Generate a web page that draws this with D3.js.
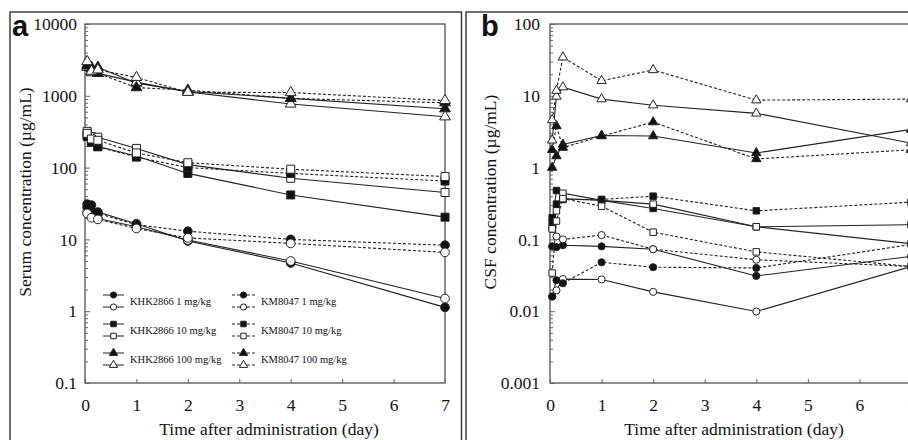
<!DOCTYPE html>
<html>
<head>
<meta charset="utf-8">
<script src="https://cdn.jsdelivr.net/npm/d3@7"></script>
<style>
  body { margin: 0; background: #fff; }
  svg text { font-family: "Liberation Serif", "Times New Roman", serif; fill: #111; }
</style>
</head>
<body>
<script>
// sampling times (day)
const days = [0.042, 0.125, 0.25, 1, 2, 4, 7];

// serum (ug/mL), panel a
const serumKHK1   = [31, 30, 24, 16.5, 9.5, 4.7, 1.13];
const serumKHK1o  = [24, 22, 19.5, 15, 9.8, 5.0, 1.5];
const serumKM1    = [28, 25, 23, 16, 13, 10, 8.3];
const serumKM1o   = [23, 20, 19, 14.2, 10.5, 8.8, 6.6];
const serumKHK10  = [285, 230, 196, 145, 83, 41.6, 20.4];
const serumKHK10o = [320, 270, 265, 185, 110, 71, 45];
const serumKM10   = [270, 225, 195, 140, 100, 83, 65];
const serumKM10o  = [300, 250, 240, 160, 117, 95, 75];
const serumKHK100  = [2700, 2500, 2500, 1500, 1150, 920, 660];
const serumKHK100o = [2500, 2100, 2050, 1550, 1130, 770, 510];
const serumKM100   = [2600, 2400, 2050, 1300, 1200, 920, 800];
const serumKM100o  = [3000, 2200, 2300, 1800, 1120, 1110, 860];

// CSF (ug/mL), panel b
const csfKHK1   = [0.08, 0.078, 0.083, 0.08, 0.073, 0.031, 0.058];
const csfKHK1o  = [0.016, 0.0195, 0.028, 0.0277, 0.0186, 0.0099, 0.042];
const csfKM1    = [0.016, 0.027, 0.0245, 0.048, 0.041, 0.04, 0.085];
const csfKM1o   = [0.14, 0.11, 0.1, 0.115, 0.073, 0.052, 0.042];
const csfKHK10  = [0.17, 0.48, 0.37, 0.35, 0.27, 0.15, 0.16];
const csfKHK10o = [0.14, 0.25, 0.44, 0.35, 0.31, 0.15, 0.087];
const csfKM10   = [0.2, 0.31, 0.36, 0.36, 0.40, 0.25, 0.33];
const csfKM10o  = [0.034, 0.18, 0.37, 0.29, 0.126, 0.067, 0.042];
const csfKHK100  = [1.0, 1.45, 2.1, 2.8, 2.75, 1.6, 3.4];
const csfKHK100o = [2.4, 9.8, 13.2, 9.0, 7.4, 5.7, 2.2];
const csfKM100   = [1.77, 3.8, 1.9, 2.75, 4.3, 1.32, 1.77];
const csfKM100o  = [4.6, 11.8, 34.4, 16.2, 22.9, 8.7, 9.0];

const legendNames = ["KHK2866 1 mg/kg", "KHK2866 10 mg/kg", "KHK2866 100 mg/kg",
                     "KM8047 1 mg/kg", "KM8047 10 mg/kg", "KM8047 100 mg/kg"];
const xTicks = [0, 1, 2, 3, 4, 5, 6, 7];

// series: [values, marker, filled, dashed]
const serumSeries = [
  [serumKHK1, "circle", true, false], [serumKHK1o, "circle", false, false],
  [serumKM1, "circle", true, true], [serumKM1o, "circle", false, true],
  [serumKHK10, "square", true, false], [serumKHK10o, "square", false, false],
  [serumKM10, "square", true, true], [serumKM10o, "square", false, true],
  [serumKHK100, "triangle", true, false], [serumKHK100o, "triangle", false, false],
  [serumKM100, "triangle", true, true], [serumKM100o, "triangle", false, true]
];
const csfSeries = [
  [csfKHK1, "circle", true, false], [csfKHK1o, "circle", false, false],
  [csfKM1, "circle", true, true], [csfKM1o, "circle", false, true],
  [csfKHK10, "square", true, false], [csfKHK10o, "square", false, false],
  [csfKM10, "square", true, true], [csfKM10o, "square", false, true],
  [csfKHK100, "triangle", true, false], [csfKHK100o, "triangle", false, false],
  [csfKM100, "triangle", true, true], [csfKM100o, "triangle", false, true]
];

const svg = d3.select("body").append("svg")
    .attr("width", 908).attr("height", 440);

// outer panel frames
svg.append("rect").attr("x", 10).attr("y", 12).attr("width", 451.5).attr("height", 460)
    .attr("fill", "none").attr("stroke", "#333").attr("stroke-width", 1.4);
svg.append("rect").attr("x", 466).attr("y", 12).attr("width", 460).attr("height", 460)
    .attr("fill", "none").attr("stroke", "#333").attr("stroke-width", 1.4);

function symbolOf(kind, size) {
    const t = kind == "circle" ? d3.symbolCircle : kind == "square" ? d3.symbolSquare : d3.symbolTriangle;
    return d3.symbol().type(t).size(size)();
}

function styleTicks(ax) {
    ax.selectAll("text")
        .style("font-family", "'Liberation Serif', 'Times New Roman', serif")
        .style("font-size", "17.5px").attr("fill", "#111");
    ax.selectAll("line").attr("stroke", "#666");
    ax.select(".domain").remove();
}

function drawPanel(cfg) {
    const x = d3.scaleLinear().domain([0, 7]).range([cfg.left, cfg.right]);
    const y = d3.scaleLog().domain(cfg.yDomain).range([383, 24]);
    const g = svg.append("g");

    // plot frame
    g.append("rect").attr("x", cfg.left).attr("y", 24)
        .attr("width", cfg.right - cfg.left).attr("height", 359)
        .attr("fill", "none").attr("stroke", "#444").attr("stroke-width", 1.2);

    // y axis, decades + minor ticks inside
    const decades = [];
    const minors = [];
    for (let e = Math.log10(cfg.yDomain[0]); e <= Math.log10(cfg.yDomain[1]) + 1e-9; e++) {
        decades.push(Math.pow(10, e));
        if (e < Math.log10(cfg.yDomain[1]) - 1e-9)
            for (let m = 2; m < 10; m++) minors.push(m * Math.pow(10, e));
    }
    g.append("g").attr("transform", `translate(${cfg.left},0)`)
        .call(d3.axisLeft(y).tickValues(decades).tickSizeInner(-5).tickSizeOuter(0)
            .tickPadding(cfg.yPad).tickFormat(d => cfg.fmt(d)))
        .call(styleTicks);
    g.append("g").attr("transform", `translate(${cfg.left},0)`)
        .call(d3.axisLeft(y).tickValues(minors).tickSizeInner(-3).tickSizeOuter(0).tickFormat(""))
        .call(styleTicks);

    g.append("g").attr("transform", "translate(0,383)")
        .call(d3.axisBottom(x).tickValues(xTicks).tickSizeInner(-4).tickSizeOuter(0)
            .tickPadding(16).tickFormat(d3.format("d")))
        .call(styleTicks);

    // titles
    g.append("text").attr("x", (cfg.left * 2 + 360) / 2 + 4).attr("y", 435)
        .attr("text-anchor", "middle").style("font-size", "17.5px").attr("fill", "#111")
        .text("Time after administration (day)");
    g.append("text").attr("transform", `translate(${cfg.yTitleX},192) rotate(-90)`)
        .attr("text-anchor", "middle").style("font-size", "17.5px").attr("fill", "#111")
        .text(cfg.yTitle);
    g.append("text").attr("x", cfg.tagX).attr("y", 36)
        .style("font-family", "'Liberation Sans', Arial, sans-serif")
        .style("font-weight", "bold").style("font-size", "29px").attr("fill", "#000")
        .text(cfg.tag);

    const line = d3.line().x((d, i) => x(days[i])).y(d => y(d));
    cfg.series.forEach(s => {
        g.append("path").datum(s[0]).attr("d", line)
            .attr("fill", "none").attr("stroke", "#222").attr("stroke-width", 1.1)
            .attr("stroke-dasharray", s[3] ? "3,2" : null);
    });
    cfg.series.forEach(s => {
        g.selectAll(null).data(s[0]).join("path")
            .attr("transform", (d, i) => `translate(${x(days[i])},${y(d)})`)
            .attr("d", symbolOf(s[1], cfg.msize[s[1]]))
            .attr("fill", s[2] ? "#111" : "#fff")
            .attr("stroke", "#222").attr("stroke-width", 1);
    });
    return g;
}

const ga = drawPanel({
    left: 85, right: 445, yDomain: [0.1, 10000], yPad: 8,
    fmt: d => d >= 1 ? d3.format("d")(d) : String(d),
    yTitle: "Serum concentration  (\u00b5g/mL)", yTitleX: 31, tag: "a", tagX: 12,
    series: serumSeries, msize: { circle: 60, square: 64, triangle: 50 }
});
drawPanel({
    left: 550, right: 911, yDomain: [0.001, 100], yPad: 10,
    fmt: d => String(d),
    yTitle: "CSF concentration (\u00b5g/mL)", yTitleX: 496, tag: "b", tagX: 481,
    series: csfSeries, msize: { circle: 40, square: 42, triangle: 38 }
});

// legend for panel a
const legRows = [301, 330, 359];
const legKinds = ["circle", "square", "triangle"];
[[103, 124, false, 130], [232, 255, true, 261]].forEach((col, ci) => {
    legRows.forEach((ry, ri) => {
        [[-6, true], [6, false]].forEach(([dy, filled]) => {
            ga.append("line").attr("x1", col[0]).attr("x2", col[1])
                .attr("y1", ry + dy).attr("y2", ry + dy)
                .attr("stroke", "#222").attr("stroke-width", 1)
                .attr("stroke-dasharray", col[2] ? "3,2" : null);
            ga.append("path").attr("transform", `translate(${(col[0] + col[1]) / 2},${ry + dy})`)
                .attr("d", symbolOf(legKinds[ri], 30))
                .attr("fill", filled ? "#111" : "#fff").attr("stroke", "#222");
        });
        ga.append("text").attr("x", col[3]).attr("y", ry + 3.5)
            .style("font-size", "10.5px").attr("fill", "#111").text(legendNames[ci * 3 + ri]);
    });
});
</script>
</body>
</html>
